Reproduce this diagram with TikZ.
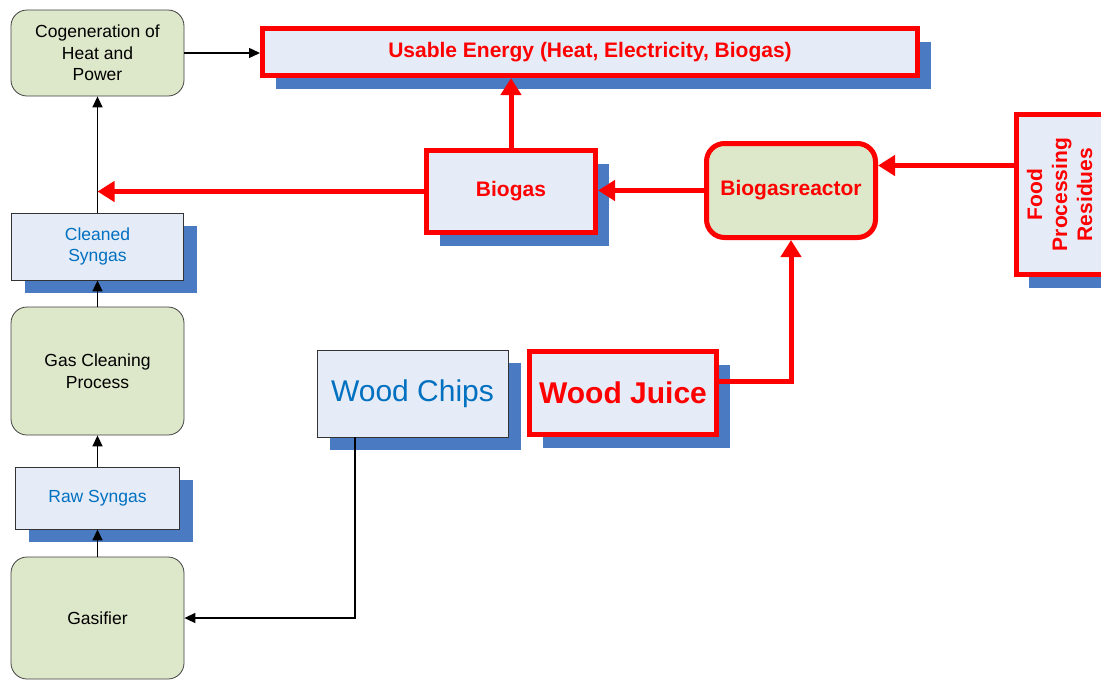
\documentclass[tikz,border=0pt]{standalone}
\usepackage{fontspec}
\setmainfont{Liberation Sans}
\usetikzlibrary{arrows.meta,shadows}
\definecolor{boxgreen}{RGB}{221,231,201}
\definecolor{boxblue}{RGB}{230,236,247}
\definecolor{shadowblue}{RGB}{74,123,194}
\definecolor{textblue}{RGB}{0,112,192}
\begin{document}
\begin{tikzpicture}[
  x=1pt, y=-1pt,
  every node/.style={inner sep=0pt, align=center, font=\fontsize{17.5}{21.5}\selectfont},
  shade/.style={general shadow={fill=shadowblue, shadow xshift=13pt, shadow yshift=-13pt}},
  greenbox/.style={draw=black!75, line width=0.8pt, fill=boxgreen, rounded corners=16pt},
  bluebox/.style={draw=black!80, line width=0.8pt, fill=boxblue, text=textblue, shade},
  redbox/.style={draw=red, line width=5pt, fill=boxblue, text=red, shade, font=\fontsize{21}{25}\selectfont\bfseries},
  redround/.style={draw=red, line width=5pt, fill=boxgreen, text=red, rounded corners=18pt, font=\fontsize{21}{25}\selectfont\bfseries},
  arrow/.style={-{Triangle[length=11pt, width=10pt]}, line width=1.5pt},
  redarrow/.style={-{Triangle[length=17pt, width=20pt]}, line width=5pt, red}
]
\useasboundingbox (0,0) rectangle (1101,681);
\node[greenbox, minimum width=173pt, minimum height=86pt] (cogen) at (97.5,53) {Cogeneration of\\Heat and\\Power};
\node[redbox, minimum width=655pt, minimum height=47pt] (energy) at (590,52) {Usable Energy (Heat, Electricity, Biogas)};
\node[redbox, minimum width=169pt, minimum height=82pt] (biogas) at (511,191.5) {Biogas};
\node[redround, minimum width=169pt, minimum height=94pt] (reactor) at (791,190.5) {Biogasreactor};
\node[redbox, rotate=90, minimum width=160pt, minimum height=87pt] (food) at (1059.5,194.5) {Food\\Processing\\Residues};
\node[bluebox, minimum width=172pt, minimum height=67pt] (cleaned) at (97.5,246.5) {Cleaned\\Syngas};
\node[greenbox, minimum width=173pt, minimum height=128pt] (gascleaning) at (97.5,371) {Gas Cleaning\\Process};
\node[bluebox, minimum width=164pt, minimum height=62pt] (raw) at (97.5,498) {Raw Syngas};
\node[greenbox, minimum width=173pt, minimum height=122pt] (gasifier) at (97.5,618) {Gasifier};
\node[bluebox, minimum width=191pt, minimum height=87pt, font=\fontsize{30}{34}\selectfont] (chips) at (412.5,393.5) {Wood Chips};
\node[redbox, minimum width=187pt, minimum height=83pt, font=\fontsize{30}{34}\selectfont\bfseries] (juice) at (623,393) {Wood Juice};
\draw[arrow] (cogen.east) -- (cogen.east -| energy.west);
\draw[arrow] (gasifier.north) -- (raw.south);
\draw[arrow] (raw.north) -- (gascleaning.south);
\draw[arrow] (gascleaning.north) -- (cleaned.south);
\draw[arrow] (cleaned.north) -- (cogen.south);
\draw[arrow] ([xshift=-57.5pt]chips.south) |- (gasifier.east);
\draw[redarrow] (biogas.north) -- (biogas.north |- energy.south);
\draw[redarrow] (reactor.west) -- (reactor.west -| biogas.east);
\draw[redarrow] (biogas.west) -- (biogas.west -| cleaned.north);
\draw[redarrow] ([yshift=29pt]food.north) -- ([yshift=29pt]food.north -| reactor.east);
\draw[redarrow] ([yshift=12pt]juice.east) -| (reactor.south);
\end{tikzpicture}
\end{document}
